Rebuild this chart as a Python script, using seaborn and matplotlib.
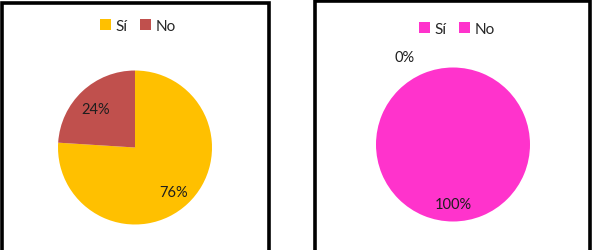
import matplotlib
matplotlib.use("Agg")
import matplotlib.pyplot as plt
from matplotlib.patches import Rectangle, Patch
import seaborn as sns

categories = ["Sí", "No"]
left_values = [76, 24]
right_values = [0, 100]
left_colors = ["#FFC000", "#C0504D"]
right_colors = ["#FF33CC", "#FF33CC"]

sns.set_theme(style="white")
plt.rcParams["font.family"] = ["Lato", "DejaVu Sans"]

W, H = 595, 251
fig = plt.figure(figsize=(W / 100, H / 100), dpi=100)
ax = fig.add_axes([0, 0, 1, 1])

def draw_pie(values, colors, cx, cy, r):
    pal = sns.color_palette(colors)
    wedges, texts, autotexts = ax.pie(
        values, colors=pal, startangle=90, counterclock=False,
        center=(cx, H - cy), radius=r, autopct="%d%%", pctdistance=0.74,
        textprops=dict(fontsize=10.5, color="#1e1e1e"),
        wedgeprops=dict(linewidth=0),
    )
    for t in autotexts:
        x, y = t.get_position()
        t.set_position((x, y - 3))
    return wedges, autotexts

draw_pie(left_values, left_colors, 135, 148.5, 77)
w2, at2 = draw_pie(right_values, right_colors, 453, 145.5, 77)
# zero slice label placed outside, as in the source chart
for v, t in zip(right_values, at2):
    if v == 0:
        t.set_position((405, H - 58))

ax.set_xlim(0, W)
ax.set_ylim(0, H)
ax.set_aspect("auto")
ax.axis("off")

# panel borders
for (x0, y0, x1) in [(2, 4, 269), (315, 1.5, 590)]:
    ax.add_patch(Rectangle((x0, -20), x1 - x0, (H - y0) + 20, fill=False,
                           edgecolor="black", linewidth=2.6, clip_on=False))

def legend(colors, xc, yc):
    handles = [Patch(facecolor=c, edgecolor="none", label=l) for c, l in zip(colors, categories)]
    fig.legend(handles=handles, loc="center", bbox_to_anchor=(xc / W, 1 - yc / H),
               ncol=2, frameon=False, fontsize=11, handlelength=0.7, handleheight=0.7,
               handletextpad=0.3, columnspacing=0.8, borderpad=0)

legend(left_colors, 138, 27)
legend(right_colors, 457, 30)

fig.savefig("out.png", dpi=100)
